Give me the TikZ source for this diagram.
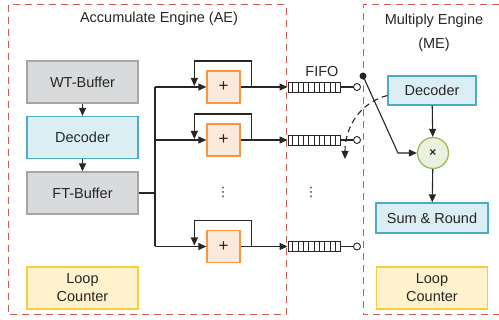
\documentclass[tikz,border=0pt]{standalone}
\usepackage{fontspec}
\setmainfont{Liberation Sans}
\newfontfamily\dotsfont{DejaVu Sans}
\usepackage{xcolor}
\usepackage{tikz}
\usetikzlibrary{arrows.meta, calc}

\definecolor{engred}{RGB}{214,88,82}
\definecolor{bufgray}{RGB}{217,218,220}
\definecolor{bufedge}{RGB}{166,166,168}
\definecolor{decblue}{RGB}{218,238,243}
\definecolor{decedge}{RGB}{75,172,198}
\definecolor{addfill}{RGB}{251,233,218}
\definecolor{addedge}{RGB}{247,150,70}
\definecolor{loopfill}{RGB}{255,242,204}
\definecolor{loopedge}{RGB}{250,205,60}
\definecolor{mulfill}{RGB}{235,241,222}
\definecolor{muledge}{RGB}{155,187,89}
\definecolor{wire}{RGB}{38,38,38}

\begin{document}
\begin{tikzpicture}[x=1pt, y=-1pt, font=\fontsize{14.5}{18}\selectfont, text=wire,
  engine/.style={draw=engred, line width=1pt, dash pattern=on 7pt off 5pt},
  block/.style={line width=1.3pt, minimum width=111pt, minimum height=42pt, inner sep=0pt},
  buffer/.style={block, draw=bufedge, fill=bufgray},
  decoder/.style={block, draw=decedge, fill=decblue},
  counter/.style={block, draw=loopedge, fill=loopfill, align=center},
  adder/.style={draw=addedge, fill=addfill, line width=1.3pt, minimum width=33pt, minimum height=32pt, inner sep=0pt},
  fifo/.style={draw=wire, fill=white, line width=0.9pt, minimum width=52pt, minimum height=10pt, inner sep=0pt},
  port/.style={circle, draw=wire, fill=white, line width=0.9pt, minimum size=7pt, inner sep=0pt},
  arrow/.style={draw=wire, line width=1.1pt, -{Triangle[length=8pt, width=7pt]}},
  wireline/.style={draw=wire, line width=1.1pt}]

\useasboundingbox (0,0) rectangle (499,320);

% Engine frames
\draw[engine] (8,5) rectangle (286,315);
\draw[engine] (499,5) -- (363,5) -- (363,315) -- (499,315);
\node (aetitle) at (159,19) {Accumulate Engine (AE)};
\node[align=center] (metitle) at (434,33) {Multiply Engine\\[6pt](ME)};

% Accumulate engine, left column
\node[buffer] (wt) at (82.5,82) {WT-Buffer};
\node[decoder] (dec) at (82.5,137.5) {Decoder};
\node[buffer] (ft) at (82.5,193) {FT-Buffer};
\node[counter] (lcae) at (82.5,288) {Loop\\Counter};
\draw[arrow] (wt) -- (dec);
\draw[arrow] (dec) -- (ft);

% Input bus
\coordinate (bus) at (155,193);
\draw[wireline] (ft) -- (bus);

% Adders with feedback, FIFOs and output ports
\foreach \i/\y in {1/87,2/140,3/246.5} {
  \node[adder] (add\i) at (223.5,\y) {\fontsize{17}{17}\selectfont +};
  \node[fifo] (fifo\i) at (314,\y) {};
  \foreach \k in {1,...,9}
    \draw[wire, line width=0.7pt] ($(fifo\i.south west)!\k/10!(fifo\i.south east)$) -- ($(fifo\i.north west)!\k/10!(fifo\i.north east)$);
  \node[port] (out\i) at (357,\y) {};
  \draw[arrow] (bus |- add\i) -- (add\i);
  \draw[arrow] ($(add\i.east)+(11,0)$) -- ++(0,-26) -| ($(add\i.west)+(-12,-1)$);
  \draw[arrow] (add\i) -- (fifo\i);
  \draw[wireline] (fifo\i) -- (out\i);
}
\draw[wireline] (bus |- add1) -- (bus |- add3);
\node (fifolbl) at (322,72) {FIFO};
\node[font=\dotsfont\fontsize{13}{13}\selectfont] (dotsa) at (223,192) {⋮};
\node[font=\dotsfont\fontsize{13}{13}\selectfont] (dotsb) at (311,192) {⋮};

% Multiply engine
\node[decoder, minimum width=88pt, minimum height=29pt] (medec) at (432,90.5) {Decoder};
\node[circle, draw=muledge, fill=mulfill, line width=1.3pt, minimum size=31pt, inner sep=0pt] (mul) at (433,153) {\fontsize{12}{12}\selectfont\bfseries ×};
\node[decoder, minimum width=112pt, minimum height=30pt] (sum) at (432,218) {Sum \& Round};
\node[counter] (lcme) at (432,288) {Loop\\Counter};
\draw[arrow] (medec) -- (mul);
\draw[arrow] (mul) -- (sum);

% Selector switch
\node[circle, fill=wire, minimum size=7pt, inner sep=0pt] (pivot) at (363,76) {};
\coordinate (bend) at (398,153);
\draw[arrow] (pivot.center) -- (bend) -- (mul);
\coordinate (sel) at (345,159);
\draw[arrow, dash pattern=on 6pt off 4pt] ($(medec.west)+(0,5)$) .. controls (362,102) and (345,125) .. (sel);

\end{tikzpicture}
\end{document}
